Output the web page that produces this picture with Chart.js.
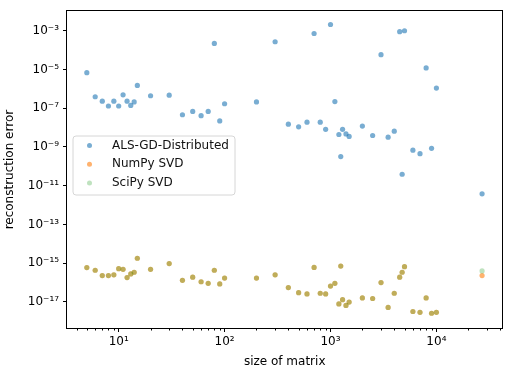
<!DOCTYPE html>
<html>
<head>
<meta charset="utf-8">
<script src="https://cdn.jsdelivr.net/npm/chart.js@4/dist/chart.umd.min.js"></script>
<style>
html,body{margin:0;padding:0;background:#fff;}
#wrap{width:505px;height:369px;position:relative;}
</style>
</head>
<body>
<div id="wrap"><canvas id="c" width="505" height="369"></canvas></div>
<script>
// ---- data ----
const sizes = [5,6,7,8,9,10,11,12,13,14,15,20,30,40,50,60,70,80,90,100,200,300,400,500,600,700,800,900,1000,1100,1200,1250,1300,1400,1500,2000,2500,3000,3500,4000,4500,4750,5000,6000,7000,8000,9000,10000,27000];

const alsErrors = [6.8e-6,3.9e-7,2.3e-7,1.3e-7,2.3e-7,1.3e-7,4.9e-7,2.3e-7,1.4e-7,2.1e-7,1.5e-6,4.4e-7,4.7e-7,4.6e-8,6.8e-8,4.1e-8,6.8e-8,2.2e-4,2.2e-8,1.7e-7,2.1e-7,2.7e-4,1.5e-8,1.1e-8,1.9e-8,7.2e-4,1.9e-8,8.1e-9,2.1e-3,2.2e-7,4.4e-9,3.2e-10,8.1e-9,4.7e-9,3.5e-9,1.2e-8,3.9e-9,5.8e-5,3.2e-9,6.5e-9,8.9e-4,3.9e-11,1.0e-3,6.8e-10,4.5e-10,1.2e-5,8.5e-10,1.1e-6,3.8e-12];

const numpyErrors = [5.9e-16,4.3e-16,2.3e-16,2.3e-16,2.5e-16,5.2e-16,4.8e-16,1.8e-16,2.8e-16,3.4e-16,1.8e-15,4.8e-16,9.5e-16,1.3e-16,1.9e-16,1.1e-16,9.1e-17,4.3e-16,8.5e-17,1.7e-16,1.7e-16,2.5e-16,5.5e-17,3.0e-17,2.6e-17,6.0e-16,2.8e-17,2.6e-17,6.6e-17,9.1e-17,7.9e-18,7.1e-16,1.3e-17,6.6e-18,9.8e-18,1.6e-17,1.5e-17,1.0e-16,5.2e-18,2.8e-17,1.9e-16,3.4e-16,6.6e-16,3.2e-18,2.9e-18,1.6e-17,2.6e-18,2.9e-18,2.3e-16];

const scipyErrors = [5.9e-16,4.3e-16,2.3e-16,2.3e-16,2.5e-16,5.2e-16,4.8e-16,1.8e-16,2.8e-16,3.4e-16,1.8e-15,4.8e-16,9.5e-16,1.3e-16,1.9e-16,1.1e-16,9.1e-17,4.3e-16,8.5e-17,1.7e-16,1.7e-16,2.5e-16,5.5e-17,3.0e-17,2.6e-17,6.0e-16,2.8e-17,2.6e-17,6.6e-17,9.1e-17,7.9e-18,7.1e-16,1.3e-17,6.6e-18,9.8e-18,1.6e-17,1.5e-17,1.0e-16,5.2e-18,2.8e-17,1.9e-16,3.4e-16,6.6e-16,3.2e-18,2.9e-18,1.6e-17,2.6e-18,2.9e-18,4.0e-16];

const seriesNames = ['ALS-GD-Distributed','NumPy SVD','SciPy SVD'];
const xTickValues = [10,100,1000,10000];
const xTickLabels = ['10¹','10²','10³','10⁴'];
const yTickValues = [1e-3,1e-5,1e-7,1e-9,1e-11,1e-13,1e-15,1e-17];
const yTickLabels = ['10⁻³','10⁻⁵','10⁻⁷','10⁻⁹','10⁻¹¹','10⁻¹³','10⁻¹⁵','10⁻¹⁷'];
const xAxisTitle = 'size of matrix';
const yAxisTitle = 'reconstruction error';

// ---- styles ----
const FONT = '"DejaVu Sans", sans-serif';
const FS = 12;
const colors = ['rgba(31,119,180,0.6)','rgba(255,127,14,0.6)','rgba(44,160,44,0.3)'];

Chart.defaults.font.family = FONT;
Chart.defaults.font.size = FS;
Chart.defaults.color = '#000';

function pts(ys){ return sizes.map((x,i)=>({x:x, y:ys[i]})); }

const minorTicks = [];
for (let e=0;e<5;e++) for (let m=2;m<=9;m++) minorTicks.push(m*Math.pow(10,e));

const framePlugin = {
  id:'frame',
  afterDatasetsDraw(chart){
    const {ctx, chartArea:a, scales} = chart;
    ctx.save();
    ctx.strokeStyle = '#000';
    ctx.lineWidth = 1;
    ctx.strokeRect(Math.round(a.left)-0.5, Math.round(a.top)-0.5, Math.round(a.right-a.left)+1, Math.round(a.bottom-a.top)+1);
    const xs = scales.x;
    ctx.beginPath();
    minorTicks.forEach(v=>{
      if (v < xs.min || v > xs.max) return;
      const px = Math.round(xs.getPixelForValue(v)) + 0.5;
      ctx.moveTo(px, Math.round(a.bottom)+0.5);
      ctx.lineTo(px, Math.round(a.bottom)+2.5);
    });
    ctx.stroke();
    ctx.restore();
  },
  afterDraw(chart){
    const ctx = chart.ctx;
    const bx=73, by=136, bw=162, bh=59, r=3;
    ctx.save();
    ctx.beginPath();
    ctx.moveTo(bx+r,by); ctx.lineTo(bx+bw-r,by); ctx.arcTo(bx+bw,by,bx+bw,by+r,r);
    ctx.lineTo(bx+bw,by+bh-r); ctx.arcTo(bx+bw,by+bh,bx+bw-r,by+bh,r);
    ctx.lineTo(bx+r,by+bh); ctx.arcTo(bx,by+bh,bx,by+bh-r,r);
    ctx.lineTo(bx,by+r); ctx.arcTo(bx,by,bx+r,by,r);
    ctx.closePath();
    ctx.fillStyle='rgba(255,255,255,0.8)';
    ctx.fill();
    ctx.strokeStyle='#d6d6d6';
    ctx.lineWidth=1;
    ctx.stroke();
    ctx.font = FS + 'px ' + FONT;
    ctx.textBaseline='middle';
    ctx.textAlign='left';
    chart.data.datasets.forEach((ds,i)=>{
      const y = 145.5 + i*18.7;
      ctx.beginPath();
      ctx.arc(89.5, y, 2.5, 0, Math.PI*2);
      ctx.fillStyle = ds.backgroundColor;
      ctx.fill();
      ctx.fillStyle = '#111';
      ctx.fillText(ds.label, 112, y);
    });
    ctx.restore();
  }
};

new Chart(document.getElementById('c'), {
  type:'scatter',
  data:{
    datasets:[
      {label:seriesNames[0], data:pts(alsErrors), backgroundColor:colors[0], order:3},
      {label:seriesNames[1], data:pts(numpyErrors), backgroundColor:colors[1], order:2},
      {label:seriesNames[2], data:pts(scipyErrors), backgroundColor:colors[2], order:1}
    ]
  },
  options:{
    responsive:false,
    animation:false,
    events:[],
    elements:{point:{radius:2.6, borderWidth:0, hoverRadius:2.6}},
    layout:{padding:{top:3,right:2,left:0,bottom:0}},
    plugins:{legend:{display:false}, tooltip:{enabled:false}},
    scales:{
      x:{
        type:'logarithmic',
        min:3.25, max:42000,
        afterFit(s){ s.height = 41; },
        afterBuildTicks(s){ s.ticks = xTickValues.map(v=>({value:v})); },
        ticks:{ autoSkip:false, maxRotation:0, padding:3,
          callback(v){ const i = xTickValues.indexOf(v); return i>=0 ? xTickLabels[i] : ''; } },
        grid:{ drawOnChartArea:false, drawTicks:true, tickLength:4, tickColor:'#000', tickWidth:1 },
        border:{display:false},
        title:{display:true, text:xAxisTitle, padding:{top:0,bottom:0}}
      },
      y:{
        type:'logarithmic',
        min:4.5e-19, max:1.02e-2,
        afterFit(s){ s.width = 67; },
        afterBuildTicks(s){ s.ticks = yTickValues.map(v=>({value:v})); },
        ticks:{ autoSkip:false, padding:4,
          callback(v){ const i = yTickValues.findIndex(t=>Math.abs(Math.log10(t)-Math.log10(v))<1e-6); return i>=0 ? yTickLabels[i] : ''; } },
        grid:{ drawOnChartArea:false, drawTicks:true, tickLength:4, tickColor:'#000', tickWidth:1 },
        border:{display:false},
        title:{display:true, text:yAxisTitle, padding:{top:3,bottom:0}}
      }
    }
  },
  plugins:[framePlugin]
});
</script>
</body>
</html>
